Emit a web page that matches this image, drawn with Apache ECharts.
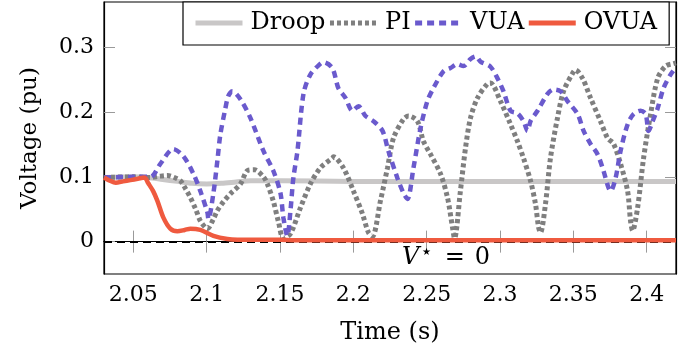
<!DOCTYPE html>
<html><head><meta charset="utf-8">
<script src="https://cdn.jsdelivr.net/npm/echarts@6/dist/echarts.min.js"></script>
<style>html,body{margin:0;padding:0;background:#fff}#c{width:693px;height:358px}</style>
</head><body><div id="c"></div>
<script>
// Tick positions / labels
const xTicks = [2.05, 2.1, 2.15, 2.2, 2.25, 2.3, 2.35, 2.4];
const yTicks = [0, 0.1, 0.2, 0.3];

// Droop
const droopT = [2.03, 2.05, 2.06, 2.07, 2.08, 2.09, 2.1, 2.11, 2.12, 2.13, 2.15, 2.2, 2.25, 2.3, 2.35, 2.4, 2.42];
const droopV = [0.099, 0.100, 0.099, 0.096, 0.093, 0.090, 0.089, 0.090, 0.092, 0.094, 0.094, 0.093, 0.093, 0.093, 0.093, 0.093, 0.093];

// PI
const piT = [2.03, 2.05, 2.0616, 2.068, 2.0732, 2.078, 2.0821, 2.0855, 2.0889, 2.0925, 2.0957, 2.0991, 2.1005,
  2.1046, 2.1073, 2.1116, 2.1162, 2.123, 2.128, 2.1325, 2.1387, 2.1414, 2.1455, 2.149, 2.1523,
  2.1571, 2.1639, 2.1707, 2.1776, 2.1857, 2.1864, 2.1932, 2.2001, 2.2062, 2.2103, 2.213,
  2.2185, 2.2233, 2.2274, 2.2342, 2.2376, 2.2437, 2.2478, 2.2526, 2.2594, 2.2642, 2.2676, 2.269,
  2.273, 2.2765, 2.2799, 2.2847, 2.2915, 2.2935, 2.3003, 2.3072, 2.3119, 2.316, 2.3208, 2.3242, 2.3263, 2.3276,
  2.331, 2.3344, 2.3392, 2.3433, 2.3495, 2.3515, 2.3563, 2.3617, 2.3685, 2.3733, 2.3774, 2.3822, 2.387, 2.389, 2.3904,
  2.3938, 2.3979, 2.4027, 2.4075, 2.4129, 2.4184, 2.42];
const piV = [0.099, 0.100, 0.099, 0.101, 0.102, 0.099, 0.094, 0.082, 0.068, 0.050, 0.032, 0.022, 0.020,
  0.035, 0.048, 0.062, 0.074, 0.089, 0.110, 0.111, 0.100, 0.089, 0.062, 0.030, 0.005,
  0.012, 0.052, 0.089, 0.114, 0.129, 0.131, 0.114, 0.078, 0.043, 0.014, 0.008,
  0.063, 0.114, 0.160, 0.189, 0.194, 0.186, 0.155, 0.135, 0.105, 0.068, 0.022, 0.005,
  0.078, 0.145, 0.191, 0.222, 0.244, 0.245, 0.217, 0.181, 0.155, 0.129, 0.094, 0.058, 0.022, 0.014,
  0.058, 0.129, 0.191, 0.232, 0.260, 0.265, 0.252, 0.222, 0.186, 0.160, 0.151, 0.120, 0.078, 0.032, 0.017,
  0.052, 0.129, 0.197, 0.252, 0.271, 0.275, 0.276];

// VUA
const vuaT = [2.03, 2.05, 2.0616, 2.0684, 2.0773, 2.0841, 2.0909, 2.0957, 2.1005, 2.1012,
  2.1046, 2.1073, 2.1093, 2.1127, 2.1148, 2.1175, 2.123, 2.1298, 2.1387, 2.1455, 2.1503, 2.1523, 2.155,
  2.1571, 2.1591, 2.1619, 2.166, 2.1707, 2.1776, 2.1796, 2.1857, 2.1898, 2.1946, 2.1994, 2.2035, 2.2083,
  2.2137, 2.2199, 2.2239, 2.2301, 2.2342, 2.2369, 2.241, 2.2458, 2.2505, 2.2546, 2.2615, 2.2662, 2.271,
  2.2751, 2.2799, 2.2833, 2.2867, 2.2935, 2.2983, 2.3024, 2.3072, 2.3119, 2.316, 2.3188, 2.3208, 2.3256,
  2.3324, 2.3365, 2.3413, 2.346, 2.3529, 2.357, 2.3617, 2.3665, 2.3706, 2.374, 2.3754, 2.3788, 2.3822,
  2.387, 2.3911, 2.3958, 2.3993, 2.4013, 2.4041, 2.4075, 2.4115, 2.4163, 2.4197];
const vuaV = [0.099, 0.100, 0.100, 0.120, 0.143, 0.132, 0.105, 0.078, 0.045, 0.035,
  0.075, 0.125, 0.165, 0.205, 0.225, 0.232, 0.220, 0.191, 0.140, 0.109, 0.075, 0.037, 0.009,
  0.047, 0.098, 0.140, 0.228, 0.258, 0.275, 0.277, 0.268, 0.237, 0.222, 0.202, 0.209, 0.194,
  0.186, 0.171, 0.140, 0.098, 0.075, 0.066, 0.114, 0.175, 0.217, 0.237, 0.263, 0.268, 0.274,
  0.271, 0.282, 0.286, 0.278, 0.270, 0.252, 0.232, 0.202, 0.198, 0.186, 0.171, 0.186, 0.202,
  0.228, 0.235, 0.232, 0.217, 0.197, 0.171, 0.151, 0.135, 0.109, 0.083, 0.078, 0.098, 0.140,
  0.181, 0.197, 0.202, 0.197, 0.171, 0.186, 0.206, 0.237, 0.258, 0.268];

// OVUA
const ovuaT = [2.03, 2.034, 2.038, 2.043, 2.048, 2.053, 2.0575, 2.0602, 2.0635, 2.0664, 2.0705, 2.0752, 2.08,
  2.085, 2.0889, 2.0957, 2.1046, 2.1141, 2.121, 2.13, 2.15, 2.16, 2.2, 2.25, 2.3, 2.35, 2.4, 2.42];
const ovuaV = [0.099, 0.094, 0.091, 0.093, 0.095, 0.097, 0.099, 0.090, 0.078, 0.063, 0.037, 0.020, 0.016,
  0.018, 0.020, 0.018, 0.009, 0.004, 0.003, 0.003, 0.003, 0.002, 0.002, 0.002, 0.002, 0.002, 0.002, 0.002];

const zip = (t, v) => t.map((x, i) => [x, v[i]]);
const F = 'DejaVu Serif';
const X_MIN = 2.03, X_MAX = 2.42, Y_MIN = -0.05, Y_MAX = 0.37;

const tickStyle = { color: '#9a9a9a', width: 1 };
const axisLineStyle = { color: '#000', width: 1.2 };
const fmt = v => String(+(+v).toFixed(3));

const chart = echarts.init(document.getElementById('c'), null, { renderer: 'canvas' });
chart.setOption({
  animation: false,
  backgroundColor: '#fff',
  textStyle: { fontFamily: F },
  grid: { left: 104, right: 17, top: 2, bottom: 84, show: true, borderColor: '#000', borderWidth: 1.2 },
  legend: {
    left: 183, top: 2, itemWidth: 47, itemHeight: 14, itemGap: 2,
    padding: [9, 12, 10, 10], borderColor: '#000', borderWidth: 1.2, backgroundColor: '#fff',
    itemStyle: { opacity: 0 },
    lineStyle: { width: 5 },
    textStyle: { fontFamily: F, fontSize: 24, color: '#000', padding: [0, 0, 0, 3] },
    data: ['Droop', 'PI', 'VUA', 'OVUA']
  },
  xAxis: [{
    type: 'value', min: X_MIN, max: X_MAX, position: 'bottom',
    axisLine: { lineStyle: axisLineStyle },
    axisTick: { inside: true, length: 11, customValues: xTicks, lineStyle: tickStyle },
    axisLabel: { customValues: xTicks, formatter: fmt, color: '#000', fontFamily: F, fontSize: 22, margin: 10 },
    splitLine: { show: false },
    name: 'Time (s)', nameLocation: 'middle', nameGap: 47,
    nameTextStyle: { fontFamily: F, fontSize: 24, color: '#000' }
  }, {
    type: 'value', min: X_MIN, max: X_MAX, position: 'top',
    axisLine: { lineStyle: axisLineStyle },
    axisTick: { inside: true, length: 11, customValues: xTicks, lineStyle: tickStyle },
    axisLabel: { show: false }, splitLine: { show: false }
  }],
  yAxis: [{
    type: 'value', min: Y_MIN, max: Y_MAX, position: 'left',
    axisLine: { lineStyle: axisLineStyle },
    axisTick: { inside: true, length: 11, customValues: yTicks, lineStyle: tickStyle },
    axisLabel: { customValues: yTicks, formatter: fmt, color: '#000', fontFamily: F, fontSize: 22, margin: 10 },
    splitLine: { show: false },
    name: 'Voltage (pu)', nameLocation: 'middle', nameGap: 62, nameRotate: 90,
    nameTextStyle: { fontFamily: F, fontSize: 23, color: '#000' }
  }, {
    type: 'value', min: Y_MIN, max: Y_MAX, position: 'right',
    axisLine: { lineStyle: axisLineStyle },
    axisTick: { inside: true, length: 11, customValues: yTicks, lineStyle: tickStyle },
    axisLabel: { show: false }, splitLine: { show: false }
  }],
  series: [{
    name: 'Droop', type: 'line', showSymbol: false, symbol: 'none', smooth: 0.3,
    data: zip(droopT, droopV),
    lineStyle: { color: '#c9c7c7', width: 5 }, itemStyle: { color: '#c9c7c7' }, z: 2
  }, {
    name: 'PI', type: 'line', showSymbol: false, symbol: 'none', smooth: 0.3,
    data: zip(piT, piV),
    lineStyle: { color: '#7f7f7f', width: 5, type: [4, 3], cap: 'butt' }, itemStyle: { color: '#7f7f7f' }, z: 3
  }, {
    name: 'VUA', type: 'line', showSymbol: false, symbol: 'none', smooth: 0.3,
    data: zip(vuaT, vuaV),
    lineStyle: { color: '#6a5acd', width: 4.5, type: [7, 5], cap: 'butt' }, itemStyle: { color: '#6a5acd' }, z: 4
  }, {
    name: 'OVUA', type: 'line', showSymbol: false, symbol: 'none', smooth: 0.3,
    data: zip(ovuaT, ovuaV),
    lineStyle: { color: '#ef5a3f', width: 4.5 }, itemStyle: { color: '#ef5a3f' }, z: 5,
    markLine: {
      silent: true, symbol: ['none', 'none'], animation: false,
      lineStyle: { color: '#000', width: 2, type: [8, 5] },
      label: { show: false },
      data: [{ yAxis: 0 }]
    },
    markPoint: {
      silent: true, symbol: 'circle', symbolSize: 0, animation: false,
      data: [{ coord: [2.2632, 0] }],
      label: {
        show: true, position: 'inside', offset: [0, 16],
        formatter: '{v|V}{s|⋆}{e|=}{z|0}',
        rich: {
          v: { fontFamily: F, fontStyle: 'italic', fontSize: 24, color: '#000' },
          s: { fontFamily: 'DejaVu Sans', fontSize: 20, color: '#000', padding: [0, 12, 9, 1] },
          e: { fontFamily: F, fontSize: 24, color: '#000', padding: [0, 10, 0, 0] },
          z: { fontFamily: F, fontSize: 24, color: '#000' }
        }
      }
    }
  }]
});
</script>
</body></html>
